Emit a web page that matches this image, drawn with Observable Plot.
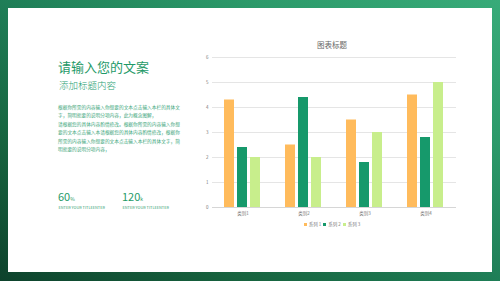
<!DOCTYPE html>
<html>
<head>
<meta charset="utf-8">
<script src="https://cdn.jsdelivr.net/npm/d3@7"></script>
<script src="https://cdn.jsdelivr.net/npm/@observablehq/plot@0.6"></script>
<style>
  html, body { margin: 0; padding: 0; }
  #slide {
    position: relative; width: 500px; height: 281px; overflow: hidden;
    background: linear-gradient(to top right, #0d422c 0%, #17643f 25%, #1f7e57 50%, #2c9a6a 75%, #38ab79 100%);
    font-family: "Noto Sans CJK SC", "Noto Sans", sans-serif;
  }
  #panel { position: absolute; left: 8px; top: 8px; width: 484px; height: 264px; background: #fff; }
  .abs { position: absolute; white-space: nowrap; }
  #h1 { left: 58px; top: 60px; font-size: 13px; line-height: 14px; color: #1f9a68; }
  #h2 { left: 59px; top: 80px; font-size: 9.5px; line-height: 11px; color: #2aa273; font-weight: 300; }
  #para { left: 58px; top: 103px; font-size: 4.7px; line-height: 8.4px; color: #3aa57a; }
  .num { font-size: 11px; line-height: 12px; color: #1f9a68; }
  .num small { font-size: 5px; }
  .sub { font-size: 3.8px; line-height: 5px; color: #2f9c6f; letter-spacing: 0.05px; }
  #ctitle { left: 0; width: 664px; text-align: center; top: 40px; font-size: 7.5px; line-height: 10px; color: #666; }
  #legend { left: 232px; width: 200px; top: 220px; display: flex; justify-content: center; gap: 2px; font-size: 4.5px; line-height: 8px; color: #777; }
  #legend span.sw { display: inline-block; width: 3px; height: 3px; margin-right: 2px; vertical-align: middle; }
  #legend div { display: flex; align-items: center; }
  #chart { position: absolute; left: 190px; top: 52px; }
  #chart svg { overflow: visible; }
</style>
</head>
<body>
<div id="slide">
  <div id="panel"></div>
  <div class="abs" id="h1">请输入您的文案</div>
  <div class="abs" id="h2">添加标题内容</div>
  <div class="abs" id="para">根据你所需的内容输入你想要的文本点击输入本栏的具体文<br>字，简明扼要的说明分项内容，此为概念图解，<br>请根据您的具体内容酌情修改。根据你所需的内容输入你想<br>要的文本点击输入本请根据您的具体内容酌情修改，根据你<br>所需的内容输入你想要的文本点击输入本栏的具体文字，简<br>明扼要的说明分项内容，</div>
  <div class="abs num" style="left:58px; top:190px;">60<small>%</small></div>
  <div class="abs sub" style="left:58.5px; top:204.5px;">ENTER YOUR TITLEENTER</div>
  <div class="abs num" style="left:122px; top:190px;">120<small>k</small></div>
  <div class="abs sub" style="left:122.5px; top:204.5px;">ENTER YOUR TITLEENTER</div>
  <div class="abs" id="ctitle">图表标题</div>
  <div id="chart"></div>
  <div class="abs" id="legend"></div>
</div>
<script>
const categories = ["类别1", "类别2", "类别3", "类别4"];
const seriesNames = ["系列 1", "系列 2", "系列 3"];
const series1 = [4.3, 2.5, 3.5, 4.5];
const series2 = [2.4, 4.4, 1.8, 2.8];
const series3 = [2.0, 2.0, 3.0, 5.0];
const colors = ["#ffbb5c", "#16996b", "#c8ee8c"];
const yTicks = [0, 1, 2, 3, 4, 5, 6];

const allSeries = [series1, series2, series3];
const data = [];
categories.forEach((c, i) => {
  seriesNames.forEach((s, j) => data.push({cat: c, series: s, value: allSeries[j][i]}));
});

const chart = Plot.plot({
  width: 280, height: 165,
  marginLeft: 22, marginRight: 14, marginTop: 5, marginBottom: 10,
  style: {fontFamily: "'Noto Sans CJK SC', sans-serif", fontSize: "4.5px", color: "#777", background: "transparent"},
  fx: {domain: categories, padding: 0, label: null, axis: "bottom", tickSize: 0, tickPadding: 4},
  x: {domain: seriesNames, paddingInner: 0.22, paddingOuter: 0.85, axis: null},
  y: {domain: [0, 6], ticks: yTicks, tickFormat: d3.format("d"), label: null, tickSize: 0, tickPadding: 4},
  color: {domain: seriesNames, range: colors},
  marks: [
    Plot.ruleY(yTicks, {stroke: "#dedede", strokeWidth: 0.8}),
    Plot.barY(data, {fx: "cat", x: "series", y: "value", fill: "series"}),
    Plot.ruleY([0], {stroke: "#d2d2d2", strokeWidth: 0.8})
  ]
});
document.getElementById("chart").appendChild(chart);

const legend = document.getElementById("legend");
seriesNames.forEach((s, j) => {
  const d = document.createElement("div");
  d.innerHTML = `<span class="sw" style="background:${colors[j]}"></span>${s}`;
  legend.appendChild(d);
});
</script>
</body>
</html>
